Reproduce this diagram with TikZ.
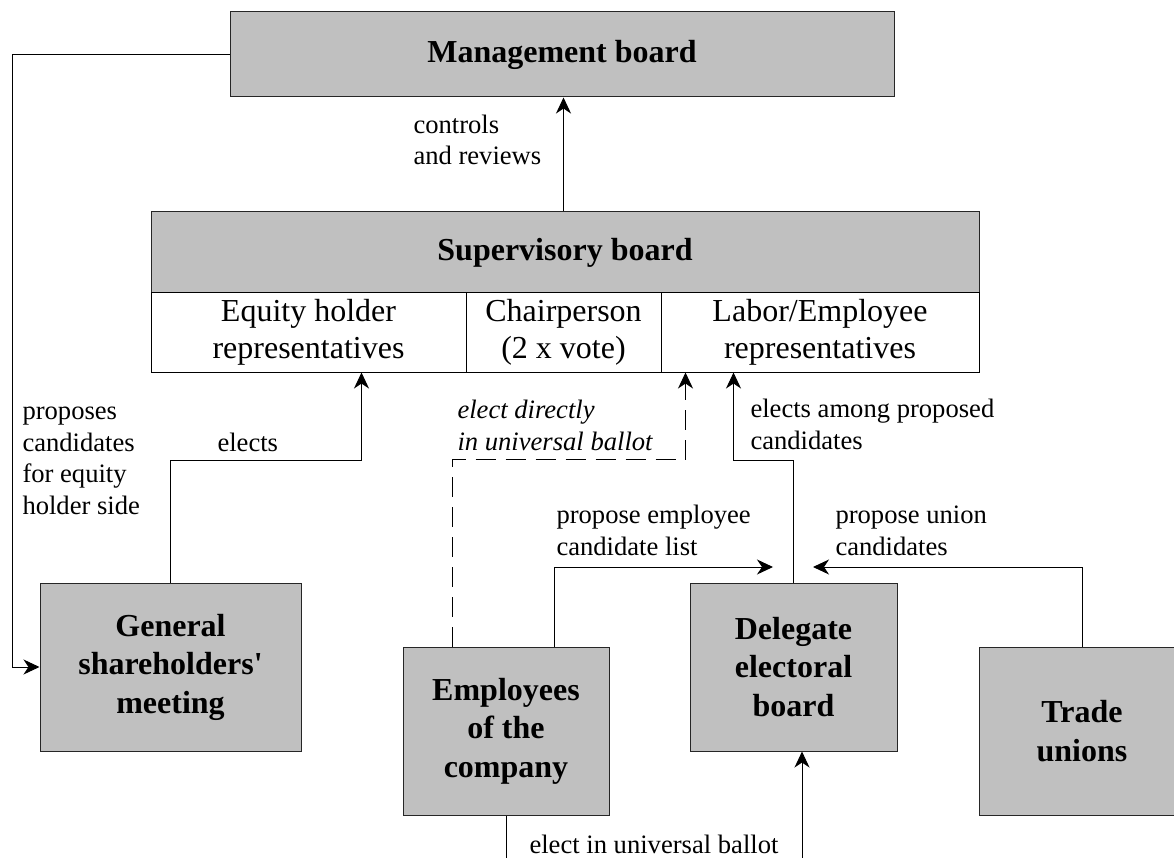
\documentclass[tikz,border=0pt]{standalone}
\usepackage{fontspec}
\setmainfont{Liberation Serif}
\usetikzlibrary{arrows.meta, positioning}
\definecolor{boardgray}{RGB}{192,192,192}

\begin{document}
\begin{tikzpicture}[x=1pt, y=-1pt, line width=1pt,
    board/.style={draw=black!85, fill=boardgray, inner sep=0pt, align=center,
        font=\fontsize{32}{38.5}\selectfont\bfseries},
    seat/.style={draw=black, fill=white, inner sep=0pt, align=center, minimum height=79pt,
        font=\fontsize{32}{37}\selectfont},
    lbl/.style={inner sep=0pt, align=left, anchor=base west,
        font=\fontsize{26.6}{31.5}\selectfont},
    arr/.style={-{Stealth[length=16pt,width=15pt,inset=5pt]}},
    ballot/.style={arr, dash pattern=on 20pt off 10pt}]

    \useasboundingbox (0,0) rectangle (1174,858);

    \node[board, minimum width=664pt, minimum height=85pt] (mgmt) at (562,54.5) {Management board};
    \node[board, minimum width=828pt, minimum height=81pt] (sup) at (565,252.5) {Supervisory board};
    \node[seat, minimum width=315pt] (eq) at (308.5,332.5) {Equity holder\\representatives};
    \node[seat, minimum width=195pt] (chair) at (563.5,332.5) {Chairperson\\(2 x vote)};
    \node[seat, minimum width=318pt] (labor) at (820,332.5) {Labor/Employee\\representatives};

    \node[board, minimum width=261pt, minimum height=168pt] (gsm) at (170.5,667) {General\\shareholders\textquotesingle\\meeting};
    \node[board, minimum width=206pt, minimum height=168pt] (emp) at (506,731) {Employees\\of the\\company};
    \node[board, minimum width=207pt, minimum height=168pt] (deleg) at (793.5,667) {Delegate\\electoral\\board};
    \node[board, minimum width=206pt, minimum height=168pt] (trade) at (1082,731) {Trade\\unions};

    \draw[arr] (chair.center |- sup.north) -- (chair.center |- mgmt.south);
    \node[lbl] (ctrl) at (413,165) {controls\\and reviews};

    \coordinate (lft) at (12,0);
    \draw[arr] (mgmt.west) -| (lft |- gsm.west) -- (gsm.west);
    \node[lbl] (prop) at (22,514) {proposes\\candidates\\for equity\\holder side};

    \draw[arr] (gsm.north) -- ++(0,-122) -| ([xshift=53pt]eq.south);
    \node[lbl] (elects) at (217,451) {elects};

    \draw[ballot] ([xshift=50pt]emp.north west) -- ++(0,-187) -| ([xshift=25pt]labor.south west);
    \node[lbl, font=\fontsize{26.6}{31.5}\selectfont\itshape] (direct) at (457,450) {elect directly\\in universal ballot};

    \draw[arr] (deleg.north) -- ++(0,-122) -| ([xshift=73pt]labor.south west);
    \node[lbl] (among) at (750,449) {elects among proposed\\candidates};

    \coordinate (empin) at (773,567);
    \draw[arr] ([xshift=152pt]emp.north west) |- (empin);
    \node[lbl] (emplist) at (556,555) {propose employee\\candidate list};

    \coordinate (unionin) at (813,567);
    \draw[arr] (trade.north) |- (unionin);
    \node[lbl] (union) at (835,555) {propose union\\candidates};

    \coordinate (low) at (0,900);
    \draw[arr] (emp.south) -- (emp.south |- low) -| ([xshift=8.5pt]deleg.south);
    \node[lbl] (universal) at (529,853) {elect in universal ballot};
\end{tikzpicture}
\end{document}
